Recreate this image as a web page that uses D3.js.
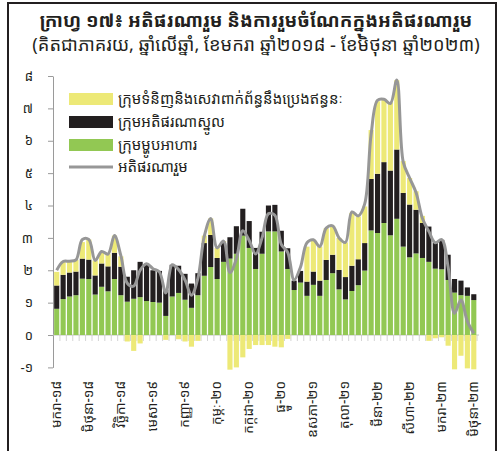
<!DOCTYPE html>
<html>
<head>
<meta charset="utf-8">
<script src="https://cdn.jsdelivr.net/npm/d3@7"></script>
<style>
  body { margin: 0; background: #fff; }
  text { font-family: "Noto Sans Khmer", "Khmer OS", "Khmer OS System", sans-serif; fill: #231f20; }
</style>
</head>
<body>
<div id="chart"></div>
<script>
// monthly, Jan 2018 - Jun 2023 (contribution, percentage points)
const food = [0.81, 1.11, 1.19, 1.23, 1.74, 1.73, 1.25, 1.49, 1.35, 1.73, 1.23, 1.03,
    1.12, 1.17, 1.05, 1.02, 1.0, 0.59, 1.19, 1.3, 1.09, 0.84, 1.23, 1.83,
    2.1, 1.73, 2.26, 2.36, 2.51, 3.07, 2.69, 2.04, 2.51, 3.2, 3.2, 2.58,
    2.04, 1.39, 1.62, 1.21, 1.55, 1.21, 1.7, 1.91, 1.41, 1.1, 1.36, 1.54,
    1.99, 3.23, 3.15, 3.46, 3.08, 3.59, 2.73, 2.4, 2.52, 2.38, 2.26, 2.05,
    2.03, 1.7, 1.31, 1.23, 1.21, 1.08];
const core = [0.72, 0.75, 0.74, 0.73, 0.62, 0.6, 0.59, 0.72, 0.77, 0.81, 0.88, 0.77,
    0.88, 1.09, 1.15, 0.98, 0.98, 0.81, 0.98, 0.84, 0.8, 0.75, 0.68, 1.01,
    0.99, 0.65, 0.58, 0.66, 0.85, 0.83, 0.83, 0.65, 0.68, 0.8, 0.82, 0.64,
    0.64, 0.29, 0.36, 0.44, 0.41, 0.47, 0.62, 0.57, 0.6, 0.69, 0.78, 0.8,
    0.85, 1.59, 1.83, 1.88, 2.0, 2.14, 1.66, 1.63, 1.35, 1.08, 1.09, 0.81,
    0.91, 0.78, 0.42, 0.45, 0.26, 0.18];
const energy = [0.42, 0.41, 0.34, 0.36, 0.51, 0.62, 0.46, 0.34, 0.38, 0.53, 0.32, -0.2,
    -0.49, -0.26, 0.0, 0.0, 0.0, -0.15, 0.0, -0.13, -0.2, -0.36, -0.18, 0.23,
    0.51, 0.31, 0.06, -1.07, -1.0, -0.69, -0.43, -0.31, -0.31, -0.31, -0.36, -0.38,
    -0.12, 0.0, 0.0, 1.08, 0.98, 1.05, 0.98, 0.89, 0.99, 1.07, 1.63, 1.32,
    1.13, 1.51, 2.24, 1.94, 2.11, 2.14, 0.98, 0.82, 0.57, 0.22, -0.18, -0.1,
    -0.07, -0.33, -1.06, -0.64, -1.03, -1.06];
const headline = [2.0, 2.27, 2.28, 2.32, 2.95, 2.95, 2.3, 2.58, 2.5, 3.07, 2.45, 1.6,
    1.51, 2.0, 2.2, 2.05, 1.95, 1.3, 2.17, 2.02, 1.7, 1.23, 1.75, 3.05,
    3.6, 2.69, 2.9, 1.93, 2.35, 3.22, 2.92, 2.5, 3.0, 3.75, 3.7, 2.8,
    2.55, 1.7, 2.1, 2.85, 2.94, 2.73, 3.3, 3.37, 3.0, 2.86, 3.8, 3.68,
    4.05, 6.2, 7.25, 7.28, 7.15, 7.88, 5.35, 4.85, 4.4, 3.6, 3.2, 2.85,
    2.95, 2.1, 0.67, 1.08, 0.42, 0.05];
// x labels every 5 months
const monthLabels = ['មករា-១៨', 'មិថុនា-១៨', 'វិច្ឆិកា-១៨', 'មេសា-១៩', 'កញ្ញា-១៩', 'កុម្ភៈ-២០', 'កក្កដា-២០',
    'ធ្នូ-២០', 'ឧសភា-២១', 'តុលា-២១', 'មីនា-២២', 'សីហា-២២', 'មករា-២៣', 'មិថុនា-២៣'];
const yTicks = [-1, 0, 1, 2, 3, 4, 5, 6, 7, 8];
const khmerDigits = ['០', '១', '២', '៣', '៤', '៥', '៦', '៧', '៨', '៩'];
const SERIES = [
    { key: 'food', name: 'ក្រុមម្ហូបអាហារ', color: '#92c853' },
    { key: 'core', name: 'ក្រុមអតិផរណាស្នូល', color: '#231f20' },
    { key: 'energy', name: 'ក្រុមទំនិញនិងសេវាពាក់ព័ន្ធនឹងប្រេងឥន្ធនៈ', color: '#ede977' },
];
const LINE_NAME = 'អតិផរណារួម';

const width = 501;
const height = 451;
const svg = d3.select('#chart')
    .append('svg')
    .attr('width', width)
    .attr('height', height);

// frame
svg.append('path')
    .attr('d', `M8,${height + 5}V3H496V${height + 5}`)
    .attr('fill', 'none')
    .attr('stroke', '#231f20')
    .attr('stroke-width', 2);

svg.append('text')
    .attr('x', 256).attr('y', 27)
    .attr('text-anchor', 'middle')
    .style('font-size', '18.7px')
    .style('font-weight', 'bold')
    .text('ក្រាហ្វ ១៧៖ អតិផរណារួម និងការរួមចំណែកក្នុងអតិផរណារួម');
svg.append('text')
    .attr('x', 256).attr('y', 51)
    .attr('text-anchor', 'middle')
    .style('font-size', '18.3px')
    .text('(គិតជាភាគរយ, ឆ្នាំលើឆ្នាំ, ខែមករា ឆ្នាំ២០១៨ - ខែមិថុនា ឆ្នាំ២០២៣)');

const data = food.map((d, i) => ({ i, food: d, core: core[i], energy: energy[i] }));

const x = d3.scaleBand()
    .domain(data.map((d) => d.i))
    .range([53.5, 477])
    .paddingInner(0.2)
    .paddingOuter(0.1);
const y = d3.scaleLinear()
    .domain([-1, 8])
    .range([367.4, 76]);

const toKhmer = (n) => String(n).replace(/\d/g, (c) => khmerDigits[+c]);

// y axis
const yAxis = svg.append('g')
    .attr('transform', 'translate(53,0)')
    .call(d3.axisLeft(y).tickValues(yTicks).tickSize(5).tickSizeOuter(0).tickPadding(15)
        .tickFormat((d) => (d < 0 ? '-' : '') + toKhmer(Math.abs(d))));
yAxis.select('.domain').attr('stroke', '#9a9a9a');
yAxis.selectAll('.tick line').attr('stroke', '#9a9a9a');
yAxis.selectAll('.tick text').style('font-size', '13px').attr('fill', '#231f20');

// x baseline with ticks between bars
const xAxis = svg.append('g')
    .attr('transform', `translate(0,${y(0)})`);
xAxis.selectAll('line.tk')
    .data(data)
    .enter()
    .append('line')
    .attr('class', 'tk')
    .attr('x1', (d) => x(d.i) + x.bandwidth() + x.step() * 0.1)
    .attr('x2', (d) => x(d.i) + x.bandwidth() + x.step() * 0.1)
    .attr('y1', 0)
    .attr('y2', 6)
    .attr('stroke', '#d4d4d4');

const stacked = d3.stack()
    .keys(SERIES.map((s) => s.key))
    .offset(d3.stackOffsetDiverging)(data);

svg.append('g')
    .selectAll('g')
    .data(stacked)
    .enter()
    .append('g')
    .attr('fill', (d, k) => SERIES[k].color)
    .selectAll('rect')
    .data((d) => d)
    .enter()
    .append('rect')
    .attr('x', (d) => x(d.data.i))
    .attr('y', (d) => y(Math.max(d[0], d[1])))
    .attr('width', x.bandwidth())
    .attr('height', (d) => Math.abs(y(d[0]) - y(d[1])));

xAxis.append('line')
    .attr('x1', 53).attr('x2', 479)
    .attr('stroke', '#c8c8c8')
    .attr('stroke-width', 1);

// headline line
const line = d3.line()
    .x((d, i) => x(i) + x.bandwidth() / 2)
    .y((d) => y(d))
    .curve(d3.curveCatmullRom.alpha(0.5));
svg.append('path')
    .datum(headline)
    .attr('d', line)
    .attr('fill', 'none')
    .attr('stroke', '#979797')
    .attr('stroke-width', 3)
    .attr('stroke-linejoin', 'round');

// month labels
svg.append('g')
    .selectAll('text')
    .data(monthLabels)
    .enter()
    .append('text')
    .attr('transform', (d, k) => `translate(${x(k * 5) + x.bandwidth() / 2 + 4},381) rotate(-90)`)
    .attr('text-anchor', 'end')
    .style('font-size', '13.5px')
    .text((d) => d);

// legend
const legendItems = [SERIES[2], SERIES[1], SERIES[0]];
const legend = svg.append('g').attr('transform', 'translate(69,93)');
legendItems.forEach((s, k) => {
    legend.append('rect')
        .attr('x', 0).attr('y', k * 23)
        .attr('width', 44).attr('height', 12)
        .attr('fill', s.color);
    legend.append('text')
        .attr('x', 49).attr('y', k * 23 + 11)
        .style('font-size', '15px')
        .text(s.name);
});
legend.append('line')
    .attr('x1', 0).attr('x2', 44)
    .attr('y1', 3 * 23 + 5).attr('y2', 3 * 23 + 5)
    .attr('stroke', '#979797')
    .attr('stroke-width', 3);
legend.append('text')
    .attr('x', 49).attr('y', 3 * 23 + 10)
    .style('font-size', '15px')
    .text(LINE_NAME);
</script>
</body>
</html>
